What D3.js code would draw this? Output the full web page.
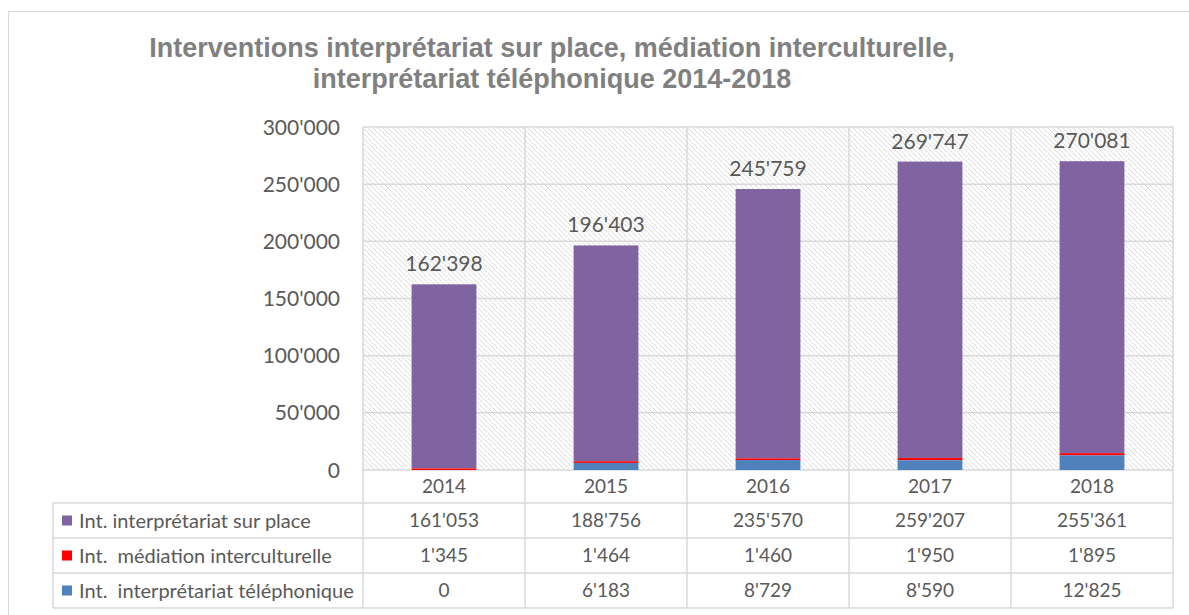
<!DOCTYPE html>
<html>
<head>
<meta charset="utf-8">
<script src="https://cdn.jsdelivr.net/npm/d3@7"></script>
<style>
  body { margin: 0; background: #fff; }
  text { font-family: Lato, "Open Sans", sans-serif; }
</style>
</head>
<body>
<script>
// data
var years = ["2014", "2015", "2016", "2017", "2018"];
var surPlace = [161053, 188756, 235570, 259207, 255361];
var mediation = [1345, 1464, 1460, 1950, 1895];
var telephonique = [0, 6183, 8729, 8590, 12825];
var seriesNames = ["Int. interprétariat sur place", "Int.  médiation interculturelle", "Int.  interprétariat téléphonique"];
var seriesColors = ["#8064a2", "#ff0000", "#4f81bd"];
var yTicks = [0, 50000, 100000, 150000, 200000, 250000, 300000];
var titleLines = ["Interventions interprétariat sur place, médiation interculturelle,", "interprétariat téléphonique 2014-2018"];

var W = 1189, H = 615;
var plot = {left: 363, right: 1173, top: 127, bottom: 470};
var rowH = 35, yearRowH = 33, legendLeft = 53;
var gridColor = "#d9d9d9", textColor = "#595959";

var fmt = d3.formatLocale({decimal: ".", thousands: "'", grouping: [3], currency: ["", ""]}).format(",d");

var svg = d3.select("body").append("svg")
    .attr("width", W)
    .attr("height", H);

// hatch pattern for the plot background
var defs = svg.append("defs");
var pat = defs.append("pattern")
    .attr("id", "hatch")
    .attr("patternUnits", "userSpaceOnUse")
    .attr("width", 5)
    .attr("height", 5);
pat.append("rect").attr("width", 5).attr("height", 5).attr("fill", "#fff");
pat.append("path")
    .attr("d", "M0,0 L5,5 M-1,4 L1,6 M4,-1 L6,1")
    .attr("stroke", "#d6d6d6")
    .attr("stroke-width", 1.1)
    .attr("stroke-dasharray", "1.2,0.8");

// outer chart border
svg.append("rect")
    .attr("x", 8.5).attr("y", 11.5)
    .attr("width", 1300).attr("height", 700)
    .attr("fill", "none")
    .attr("stroke", gridColor);

// title
svg.append("g").selectAll("text")
  .data(titleLines)
  .enter().append("text")
    .attr("x", 552)
    .attr("y", function(d, i) { return 57 + i * 31; })
    .attr("text-anchor", "middle")
    .style("font-family", "'Liberation Sans', Arial, sans-serif")
    .style("font-weight", "bold")
    .style("font-size", "27px")
    .attr("fill", "#808080")
    .text(function(d) { return d; });

// scales
var x = d3.scaleBand().domain(years).range([plot.left, plot.right]).padding(0);
var y = d3.scaleLinear().domain([0, 300000]).range([plot.bottom, plot.top]);
var barW = x.bandwidth() * 0.4;

svg.append("rect")
    .attr("x", plot.left).attr("y", plot.top)
    .attr("width", plot.right - plot.left).attr("height", plot.bottom - plot.top)
    .attr("fill", "url(#hatch)");

// gridlines
svg.append("g").selectAll("line")
  .data(yTicks)
  .enter().append("line")
    .attr("x1", plot.left).attr("x2", plot.right)
    .attr("y1", function(d) { return y(d); })
    .attr("y2", function(d) { return y(d); })
    .attr("stroke", gridColor)
    .attr("stroke-width", 1.5);

var tableBottom = plot.bottom + yearRowH + rowH * 3;
var colEdges = years.map(function(d) { return x(d); }).concat([plot.right]);
svg.append("g").selectAll("line")
  .data(colEdges)
  .enter().append("line")
    .attr("x1", function(d) { return d; }).attr("x2", function(d) { return d; })
    .attr("y1", plot.top).attr("y2", tableBottom)
    .attr("stroke", gridColor)
    .attr("stroke-width", 1.5);

// y axis labels
svg.append("g").selectAll("text")
  .data(yTicks)
  .enter().append("text")
    .attr("x", 340)
    .attr("y", function(d) { return y(d); })
    .attr("dy", "0.36em")
    .attr("text-anchor", "end")
    .style("font-size", "21px")
    .attr("fill", textColor)
    .text(function(d) { return fmt(d); });

// stacked bars
var rows = years.map(function(yr, i) {
  return {year: yr, tel: telephonique[i], med: mediation[i], place: surPlace[i]};
});
var stack = d3.stack().keys(["place", "med", "tel"]).order(d3.stackOrderReverse);
var layers = stack(rows);
var colorByKey = {place: seriesColors[0], med: seriesColors[1], tel: seriesColors[2]};

svg.append("g").selectAll("g")
  .data(layers)
  .enter().append("g")
    .attr("fill", function(d) { return colorByKey[d.key]; })
  .selectAll("rect")
  .data(function(d) { return d; })
  .enter().append("rect")
    .attr("x", function(d) { return x(d.data.year) + (x.bandwidth() - barW) / 2; })
    .attr("width", barW)
    .attr("y", function(d) { return y(d[1]); })
    .attr("height", function(d) { return y(d[0]) - y(d[1]); });

// total labels
svg.append("g").selectAll("text")
  .data(rows)
  .enter().append("text")
    .attr("x", function(d) { return x(d.year) + x.bandwidth() / 2; })
    .attr("y", function(d) { return y(d.tel + d.med + d.place) - 13; })
    .attr("text-anchor", "middle")
    .style("font-size", "21px")
    .attr("fill", textColor)
    .text(function(d) { return fmt(d.tel + d.med + d.place); });

// data table
var table = svg.append("g");
// year row
table.selectAll(".yr")
  .data(years)
  .enter().append("text")
    .attr("class", "yr")
    .attr("x", function(d) { return x(d) + x.bandwidth() / 2; })
    .attr("y", plot.bottom + yearRowH / 2)
    .attr("dy", "0.36em")
    .attr("text-anchor", "middle")
    .style("font-size", "19px")
    .attr("fill", textColor)
    .text(function(d) { return d; });

var tableSeries = [surPlace, mediation, telephonique];
var rowTops = tableSeries.map(function(s, i) { return plot.bottom + yearRowH + i * rowH; });

// horizontal table lines
table.selectAll(".hl")
  .data(rowTops.concat([tableBottom]))
  .enter().append("line")
    .attr("class", "hl")
    .attr("x1", legendLeft).attr("x2", plot.right)
    .attr("y1", function(d) { return d; })
    .attr("y2", function(d) { return d; })
    .attr("stroke", gridColor)
    .attr("stroke-width", 1.5);
table.append("line")
    .attr("x1", legendLeft).attr("x2", legendLeft)
    .attr("y1", rowTops[0]).attr("y2", tableBottom)
    .attr("stroke", gridColor)
    .attr("stroke-width", 1.5);

tableSeries.forEach(function(s, i) {
  var cy = rowTops[i] + rowH / 2;
  table.append("rect")
      .attr("x", 62).attr("y", cy - 5)
      .attr("width", 10).attr("height", 10)
      .attr("fill", seriesColors[i]);
  table.append("text")
      .attr("x", 79).attr("y", cy)
      .attr("dy", "0.36em")
      .style("font-size", "20px")
      .style("white-space", "pre")
      .attr("xml:space", "preserve")
      .attr("fill", textColor)
      .text(seriesNames[i]);
  table.selectAll(null)
    .data(s)
    .enter().append("text")
      .attr("x", function(d, j) { return x(years[j]) + x.bandwidth() / 2; })
      .attr("y", cy)
      .attr("dy", "0.36em")
      .attr("text-anchor", "middle")
      .style("font-size", "19px")
      .attr("fill", textColor)
      .text(function(d) { return fmt(d); });
});
</script>
</body>
</html>
